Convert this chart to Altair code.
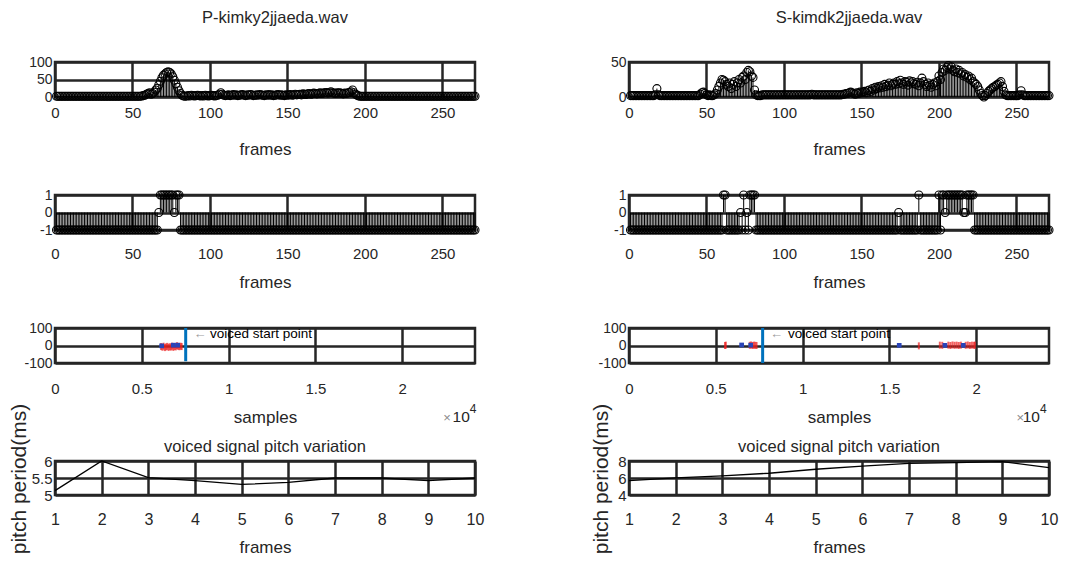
import altair as alt
import pandas as pd

# ---------------- data ----------------
panel_titles = ["P-kimky2jjaeda.wav", "S-kimdk2jjaeda.wav"]
row4_title = "voiced signal pitch variation"

# row 1: stem values per frame (frames 1..271)
energy_left = [
    2, 2, 2, 2, 2, 2, 2, 2, 2, 2,
    2, 2, 2, 2, 2, 2, 2, 2, 2, 2,
    2, 2, 2, 2, 2, 2, 2, 2, 2, 2,
    2, 2, 2, 2, 2, 2, 2, 2, 2, 2,
    2, 2, 2, 2, 2, 2, 2, 2, 2, 2,
    2, 2, 2, 2, 2, 3, 4, 5, 8, 10,
    12, 8, 10, 14, 20, 25, 35, 45, 55, 62,
    66, 70, 72, 70, 66, 58, 48, 38, 28, 18,
    10, 5, 3, 2, 3, 4, 3, 5, 4, 3,
    4, 5, 4, 3, 4, 3, 5, 4, 3, 4,
    5, 4, 3, 4, 5, 8, 12, 8, 5, 4,
    5, 6, 4, 5, 7, 5, 6, 4, 5, 6,
    7, 5, 4, 6, 5, 7, 6, 4, 5, 6,
    5, 7, 6, 5, 4, 6, 5, 7, 5, 6,
    4, 5, 6, 7, 5, 6, 5, 4, 6, 5,
    6, 7, 5, 6, 8, 6, 7, 8, 6, 9,
    8, 7, 9, 10, 8, 9, 11, 10, 9, 10,
    12, 10, 11, 12, 13, 11, 12, 15, 12, 11,
    10, 12, 11, 12, 10, 9, 11, 10, 12, 13,
    15, 20, 12, 8, 5, 3, 2, 2, 2, 2,
    2, 2, 2, 2, 2, 2, 2, 2, 2, 2,
    2, 2, 2, 2, 2, 2, 2, 2, 2, 2,
    2, 2, 2, 2, 2, 2, 2, 2, 2, 2,
    2, 2, 2, 2, 2, 2, 2, 2, 2, 2,
    2, 2, 2, 2, 2, 2, 2, 2, 2, 2,
    2, 2, 2, 2, 2, 2, 2, 2, 2, 2,
    2, 2, 2, 2, 2, 2, 2, 2, 2, 2,
    2,
]
energy_right = [
    2, 2, 2, 2, 2, 2, 2, 2, 2, 2,
    2, 2, 2, 2, 2, 2, 3, 12, 3, 2,
    2, 2, 2, 2, 2, 2, 2, 2, 2, 2,
    2, 2, 2, 2, 2, 2, 2, 2, 2, 2,
    2, 2, 2, 2, 2, 4, 6, 7, 5, 3,
    2, 3, 2, 2, 3, 5, 10, 15, 20, 25,
    24, 22, 18, 15, 20, 12, 18, 22, 15, 20,
    25, 20, 28, 30, 25, 35, 38, 36, 30, 28,
    10, 3, 2, 2, 2, 3, 3, 3, 3, 3,
    3, 3, 3, 3, 3, 3, 3, 3, 3, 3,
    3, 3, 3, 3, 3, 3, 3, 3, 3, 3,
    3, 3, 3, 3, 3, 3, 3, 4, 3, 3,
    3, 3, 3, 3, 3, 3, 3, 3, 3, 3,
    3, 3, 3, 3, 3, 3, 3, 4, 4, 5,
    5, 6, 7, 6, 5, 4, 6, 5, 7, 6,
    7, 8, 6, 9, 10, 8, 12, 10, 14, 12,
    15, 13, 16, 14, 18, 15, 17, 20, 16, 18,
    20, 18, 22, 19, 24, 20, 18, 22, 21, 17,
    23, 20, 22, 19, 18, 21, 16, 20, 27, 22,
    18, 15, 20, 17, 14, 18, 20, 16, 22, 30,
    25, 35, 40, 38, 42, 45, 40, 43, 38, 36,
    40, 35, 38, 33, 35, 30, 32, 28, 30, 25,
    27, 22, 20, 18, 15, 10, 5, 2, 0, 2,
    5, 8, 10, 12, 14, 15, 17, 18, 20, 22,
    15, 8, 3, 2, 2, 2, 2, 2, 2, 2,
    2, 3, 9, 3, 2, 2, 2, 2, 2, 2,
    2, 2, 2, 2, 2, 2, 2, 2, 2, 2,
    2,
]

# row 2: voiced / unvoiced decision per frame (frames 1..271)
decision_left = [
    -1, -1, -1, -1, -1, -1, -1, -1, -1, -1,
    -1, -1, -1, -1, -1, -1, -1, -1, -1, -1,
    -1, -1, -1, -1, -1, -1, -1, -1, -1, -1,
    -1, -1, -1, -1, -1, -1, -1, -1, -1, -1,
    -1, -1, -1, -1, -1, -1, -1, -1, -1, -1,
    -1, -1, -1, -1, -1, -1, -1, -1, -1, -1,
    -1, -1, -1, -1, -1, -1, 0, 1, 1, 1,
    1, 1, 1, 1, 1, 1, 0, 1, 1, 1,
    -1, -1, -1, -1, -1, -1, -1, -1, -1, -1,
    -1, -1, -1, -1, -1, -1, -1, -1, -1, -1,
    -1, -1, -1, -1, -1, -1, -1, -1, -1, -1,
    -1, -1, -1, -1, -1, -1, -1, -1, -1, -1,
    -1, -1, -1, -1, -1, -1, -1, -1, -1, -1,
    -1, -1, -1, -1, -1, -1, -1, -1, -1, -1,
    -1, -1, -1, -1, -1, -1, -1, -1, -1, -1,
    -1, -1, -1, -1, -1, -1, -1, -1, -1, -1,
    -1, -1, -1, -1, -1, -1, -1, -1, -1, -1,
    -1, -1, -1, -1, -1, -1, -1, -1, -1, -1,
    -1, -1, -1, -1, -1, -1, -1, -1, -1, -1,
    -1, -1, -1, -1, -1, -1, -1, -1, -1, -1,
    -1, -1, -1, -1, -1, -1, -1, -1, -1, -1,
    -1, -1, -1, -1, -1, -1, -1, -1, -1, -1,
    -1, -1, -1, -1, -1, -1, -1, -1, -1, -1,
    -1, -1, -1, -1, -1, -1, -1, -1, -1, -1,
    -1, -1, -1, -1, -1, -1, -1, -1, -1, -1,
    -1, -1, -1, -1, -1, -1, -1, -1, -1, -1,
    -1, -1, -1, -1, -1, -1, -1, -1, -1, -1,
    -1,
]
decision_right = [
    -1, -1, -1, -1, -1, -1, -1, -1, -1, -1,
    -1, -1, -1, -1, -1, -1, -1, -1, -1, -1,
    -1, -1, -1, -1, -1, -1, -1, -1, -1, -1,
    -1, -1, -1, -1, -1, -1, -1, -1, -1, -1,
    -1, -1, -1, -1, -1, -1, -1, -1, -1, -1,
    -1, -1, -1, -1, -1, -1, -1, -1, -1, -1,
    1, 1, -1, -1, -1, -1, -1, -1, -1, -1,
    -1, 0, -1, 1, -1, 0, -1, 1, 1, 1,
    1, -1, -1, -1, -1, -1, -1, -1, -1, -1,
    -1, -1, -1, -1, -1, -1, -1, -1, -1, -1,
    -1, -1, -1, -1, -1, -1, -1, -1, -1, -1,
    -1, -1, -1, -1, -1, -1, -1, -1, -1, -1,
    -1, -1, -1, -1, -1, -1, -1, -1, -1, -1,
    -1, -1, -1, -1, -1, -1, -1, -1, -1, -1,
    -1, -1, -1, -1, -1, -1, -1, -1, -1, -1,
    -1, -1, -1, -1, -1, -1, -1, -1, -1, -1,
    -1, -1, -1, -1, -1, -1, -1, -1, -1, -1,
    -1, -1, -1, 0, -1, -1, -1, -1, -1, -1,
    -1, -1, -1, -1, -1, -1, 1, -1, -1, -1,
    -1, -1, -1, -1, -1, -1, -1, -1, -1, 1,
    -1, 1, 1, 0, 1, 1, 1, 1, 1, 1,
    1, 1, 1, 1, 1, 0, 0, 1, 1, 1,
    1, 1, -1, -1, -1, -1, -1, -1, -1, -1,
    -1, -1, -1, -1, -1, -1, -1, -1, -1, -1,
    -1, -1, -1, -1, -1, -1, -1, -1, -1, -1,
    -1, -1, -1, -1, -1, -1, -1, -1, -1, -1,
    -1, -1, -1, -1, -1, -1, -1, -1, -1, -1,
    -1,
]

# row 3: samples axis, red / blue markers and voiced start point
sample_ticks = [0, 5000, 10000, 15000, 20000]
red_left_x = [6110, 6190, 6260, 6330, 6400, 6470, 6540, 6610, 6680, 6750,
              6820, 6890, 6960, 7030, 7100, 7170, 7240, 7300]
red_left_y = [-6, -10, -4, -12, -8, -5, -11, -7, -9, -4,
              -11, -6, -8, -1, -5, -7, -4, -6]
blue_left_x = [6145, 6816, 7066]
blue_left_y = [-2, 2, 2]
red_right_x = [5530, 5580, 6960, 7040, 7120, 7200, 7280, 7350, 16700, 17910,
               18050, 18400, 18520, 18640, 18760, 18880, 19000, 19120, 19400,
               19520, 19640, 19760, 19880, 19930]
red_right_y = [0, 2, 1, 3, 0, 2, 1, 0, -2, 2,
               1, 2, 0, 3, 1, 2, 0, 2, 1, 3, 0, 2, 1, 2]
blue_right_x = [6490, 7010, 15570, 18200, 19260]
blue_right_y = [3, 2, 1, 1, 1]
start_point = [7530, 7700]
start_top = [100, 100]
start_bottom = [-90, -100]
arrow_x = [8350, 8500]
label_x = [8930, 9160]
label_y = [66, 66]
label_text = "voiced start point"
exp_x = [23900, 23680]
cross_x = [22810, 22770]

# row 4: pitch period (ms) for frames 1..10
pitch_frames = [1, 2, 3, 4, 5, 6, 7, 8, 9, 10]
pitch_left = [5.13, 6.0, 5.51, 5.42, 5.31, 5.37, 5.5, 5.5, 5.42, 5.5]
pitch_right = [5.7, 6.02, 6.25, 6.56, 7.03, 7.4, 7.72, 7.8, 7.92, 7.22]

# ---------------- style ----------------
FONT = "Liberation Sans, Arial, sans-serif"
INK = "#262626"
GW = 2.5
W, H = 420, 35


def x_axis(values, size, pad, title, title_y=52, expr="'' + datum.value"):
    return alt.Axis(values=values, grid=True, gridColor=INK, gridWidth=GW,
                    domain=False, ticks=False, tickSize=0,
                    labelFont=FONT, labelFontSize=size, labelColor=INK,
                    labelPadding=pad, labelFlush=False, labelOverlap=False,
                    labelExpr=expr, title=title, titleFont=FONT,
                    titleFontSize=17, titleFontWeight="normal",
                    titleColor=INK, titleY=title_y, titleBaseline="middle")


def y_axis(values, size, title=None, title_x=-36):
    kw = dict(values=values, grid=True, gridColor=INK, gridWidth=GW,
              domain=False, ticks=False, tickSize=0,
              labelFont=FONT, labelFontSize=size, labelColor=INK,
              labelPadding=3, labelOverlap=False,
              labelExpr="'' + datum.value")
    if title:
        kw.update(title=title, titleFont=FONT, titleFontSize=21,
                  titleFontWeight="normal", titleColor=INK, titleAngle=270,
                  titleX=title_x, titleY=H / 2, titleBaseline="middle",
                  titleAlign="center")
    else:
        kw["title"] = None
    return alt.Axis(**kw)


def ttl(text, offset, dx=0, dy=0):
    return alt.TitleParams(text=text, font=FONT, fontSize=16.5,
                           fontWeight="normal", color=INK, offset=offset,
                           dx=dx, dy=dy)


def stem_panel(values, ydom, yvals, xpad, title=None):
    df = pd.DataFrame({"x": list(range(1, len(values) + 1)),
                       "y": values, "base": [0] * len(values)})
    xs = alt.Scale(domain=[0, 271], nice=False, zero=False)
    ys = alt.Scale(domain=ydom, nice=False, zero=False)
    xa = x_axis([0, 50, 100, 150, 200, 250], 15, xpad, "frames")
    ya = y_axis(yvals, 14)
    stems = alt.Chart(df).mark_rule(color="black", strokeWidth=1).encode(
        x=alt.X("x:Q", scale=xs, axis=xa),
        y=alt.Y("base:Q", scale=ys, axis=ya),
        y2="y")
    dots = alt.Chart(df).mark_point(shape="circle", filled=False,
                                    color="black", size=64,
                                    strokeWidth=1.1, opacity=1).encode(
        x=alt.X("x:Q", scale=xs, axis=xa),
        y=alt.Y("y:Q", scale=ys, axis=ya))
    ch = alt.layer(stems, dots).properties(width=W, height=H)
    if title:
        ch = ch.properties(title=ttl(title, 28.5, dx=10))
    return ch


def signal_panel(i, rx, ry, bx, by):
    xs = alt.Scale(domain=[0, 24200], nice=False, zero=False)
    ys = alt.Scale(domain=[-100, 100], nice=False, zero=False)
    xa = x_axis(sample_ticks, 15, 18.5, "samples", title_y=54,
                expr="'' + datum.value / 10000")
    ya = y_axis([-100, 0, 100], 14)
    X = lambda f: alt.X(f + ":Q", scale=xs, axis=xa)
    Y = lambda f: alt.Y(f + ":Q", scale=ys, axis=ya)
    red = alt.Chart(pd.DataFrame({"x": rx, "y": ry})).mark_tick(
        color="#ee2020", orient="vertical", size=7, thickness=2).encode(
        x=X("x"), y=Y("y"))
    blue = alt.Chart(pd.DataFrame({"x": bx, "y": by})).mark_point(
        shape="square", filled=True, color="#2a44b8", size=22,
        opacity=1).encode(x=X("x"), y=Y("y"))
    vline = alt.Chart(pd.DataFrame({"x": [start_point[i]],
                                    "y": [start_top[i]],
                                    "y2": [start_bottom[i]]})).mark_rule(
        color="#0072BD", strokeWidth=3).encode(x=X("x"), y=Y("y"), y2="y2")
    arrow = alt.Chart(pd.DataFrame({"x": [arrow_x[i]], "y": [label_y[i]],
                                    "t": ["\u2190"]})).mark_text(
        align="center", baseline="middle", font=FONT, fontSize=13,
        color="#9a9a9a").encode(x=X("x"), y=Y("y"), text="t:N")
    lab = alt.Chart(pd.DataFrame({"x": [label_x[i]], "y": [label_y[i]],
                                  "t": [label_text]})).mark_text(
        align="left", baseline="middle", font=FONT, fontSize=13.5,
        color="black").encode(x=X("x"), y=Y("y"), text="t:N")
    cross = alt.Chart(pd.DataFrame({"x": [cross_x[i]], "t": ["\u00d7"]})).mark_text(
        align="right", baseline="middle", font=FONT, fontSize=13,
        color="#8a8a8a").encode(x=X("x"), y=alt.value(H + 55), text="t:N")
    ten = alt.Chart(pd.DataFrame({"x": [exp_x[i]], "t": ["10"]})).mark_text(
        align="right", baseline="middle", font=FONT, fontSize=15.5,
        color=INK).encode(x=X("x"), y=alt.value(H + 54), text="t:N")
    four = alt.Chart(pd.DataFrame({"x": [exp_x[i]], "t": ["4"]})).mark_text(
        align="left", baseline="middle", font=FONT, fontSize=12,
        color=INK).encode(x=X("x"), y=alt.value(H + 46), text="t:N")
    return alt.layer(vline, red, blue, arrow, lab, cross, ten, four).properties(
        width=W, height=H)


def pitch_panel(values, ydom, yvals, title_x):
    df = pd.DataFrame({"x": pitch_frames, "y": values})
    xs = alt.Scale(domain=[1, 10], nice=False, zero=False)
    ys = alt.Scale(domain=ydom, nice=False, zero=False)
    line = alt.Chart(df).mark_line(color="black", strokeWidth=1.3).encode(
        x=alt.X("x:Q", scale=xs,
                axis=x_axis(pitch_frames, 16, 16, "frames")),
        y=alt.Y("y:Q", scale=ys,
                axis=y_axis(yvals, 15, "pitch period(ms)", title_x)))
    return line.properties(width=W, height=H - 1,
                           title=ttl(row4_title, 1, dy=53))


panels = [
    stem_panel(energy_left, [0, 100], [0, 50, 100], 8, panel_titles[0]),
    stem_panel(energy_right, [0, 50], [0, 50], 8, panel_titles[1]),
    stem_panel(decision_left, [-1, 1], [-1, 0, 1], 16),
    stem_panel(decision_right, [-1, 1], [-1, 0, 1], 16),
    signal_panel(0, red_left_x, red_left_y, blue_left_x, blue_left_y),
    signal_panel(1, red_right_x, red_right_y, blue_right_x, blue_right_y),
    pitch_panel(pitch_left, [5, 6], [5, 5.5, 6], -36),
    pitch_panel(pitch_right, [4, 8], [4, 6, 8], -28),
]

chart = alt.concat(
    *panels, columns=2,
    spacing=alt.RowColnumber(row=98, column=154),
    bounds="flush",
).properties(
    padding={"left": -2, "top": 0, "right": 4, "bottom": 0},
    background="white",
).configure_view(
    stroke=INK, strokeWidth=GW,
)

chart.save("out.html", embed_options={"renderer": "svg", "actions": False})
